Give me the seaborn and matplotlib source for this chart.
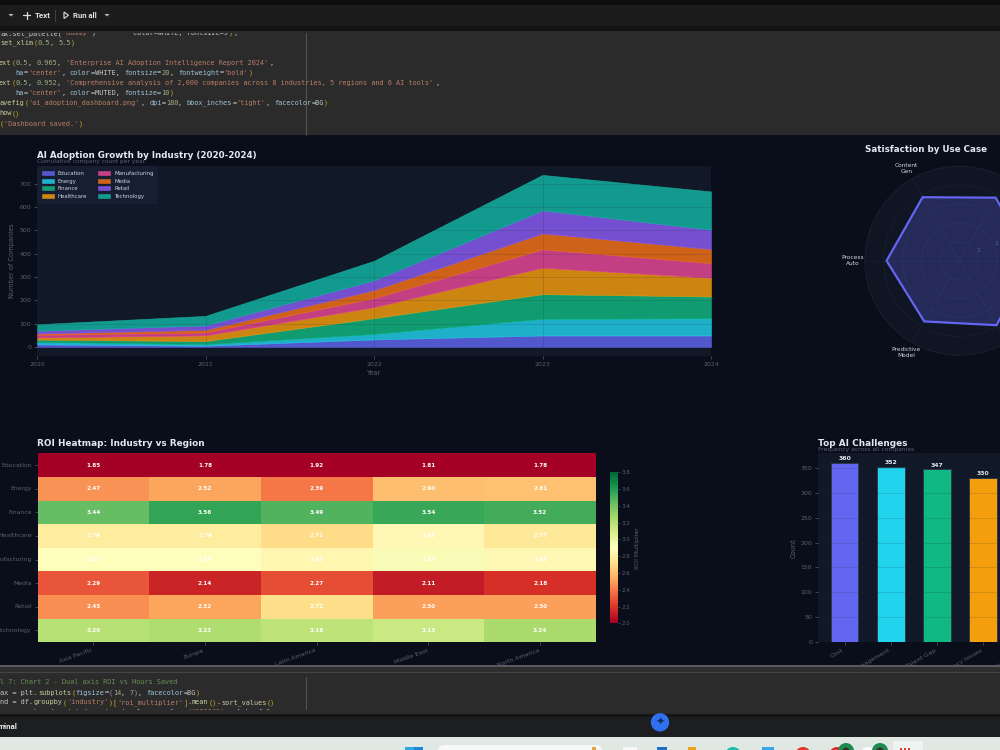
import numpy as np
import pandas as pd
import matplotlib
matplotlib.use("Agg")
import matplotlib.pyplot as plt
from matplotlib.patches import Rectangle, Circle, Polygon, FancyBboxPatch
import seaborn as sns

# ---- adoption by industry, companies per year ----
years = [2020, 2021, 2022, 2023, 2024]
industries = ["Education", "Energy", "Finance", "Healthcare",
              "Manufacturing", "Media", "Retail", "Technology"]
education = [12, 6, 33, 50, 50]
energy = [10, 6, 23, 71, 73]
finance = [10, 14, 68, 106, 94]
healthcare = [9, 24, 47, 113, 80]
manufacturing = [12, 13, 39, 79, 63]
media = [5, 11, 34, 68, 60]
retail = [12, 19, 42, 99, 83]
technology = [28, 41, 84, 152, 164]
industry_colors = ["#6366f1", "#22d3ee", "#10b981", "#f59e0b",
                   "#ec4899", "#f97316", "#8b5cf6", "#14b8a6"]

# ---- satisfaction radar ----
use_cases = ["Customer\nService", "Code\nAssist", "Content\nGen",
             "Process\nAuto", "Predictive\nModel", "Data\nAnalysis"]
satisfaction = [3.8, 3.85, 3.88, 3.85, 3.71, 3.94]

# ---- ROI heatmap ----
regions = ["Asia Pacific", "Europe", "Latin America", "Middle East", "North America"]
roi_education = [1.85, 1.78, 1.92, 1.81, 1.78]
roi_energy = [2.47, 2.52, 2.39, 2.60, 2.61]
roi_finance = [3.44, 3.56, 3.49, 3.54, 3.52]
roi_healthcare = [2.79, 2.79, 2.71, 2.86, 2.77]
roi_manufacturing = [2.91, 2.89, 2.85, 2.93, 2.86]
roi_media = [2.29, 2.14, 2.27, 2.11, 2.18]
roi_retail = [2.45, 2.52, 2.72, 2.50, 2.50]
roi_technology = [3.20, 3.23, 3.18, 3.13, 3.24]
roi_ticks = [2.0, 2.2, 2.4, 2.6, 2.8, 3.0, 3.2, 3.4, 3.6, 3.8]

# ---- challenges ----
challenges = ["Cost", "Change Management", "Talent Gap", "Data Privacy Issues",
              "Integration Complexity"]
challenge_counts = [360, 352, 347, 330, 318]
challenge_colors = ["#6366f1", "#22d3ee", "#10b981", "#f59e0b", "#ec4899"]

# ---- palette ----
BG = "#0a0e1a"
PANEL = "#111827"
GRID = "#1e293b"
MUTED = "#566072"
TEXT = "#e2e8f0"

W, H = 1000, 750
sns.set_theme(style="dark", rc={"font.family": "DejaVu Sans", "axes.grid": False})
fig = plt.figure(figsize=(W / 100, H / 100), dpi=100, facecolor=BG)


def px_axes(left, top, right, bottom, **kw):
    """Axes placed by pixel edges, y counted from the top of the canvas."""
    return fig.add_axes([left / W, 1 - bottom / H, (right - left) / W, (bottom - top) / H], **kw)


def label(x, y, s, **kw):
    kw.setdefault("va", "center")
    fig.text(x / W, 1 - y / H, s, zorder=3, **kw)


def style_axis(ax, size=4.5):
    ax.set_facecolor(PANEL)
    for sp in ax.spines.values():
        sp.set_visible(False)
    ax.tick_params(colors=MUTED, labelsize=size, length=2, width=0.5, pad=2, bottom=True, left=True)
    ax.set_axisbelow(False)
    ax.grid(True, color=GRID, linewidth=0.5, alpha=0.22)


# ---- stacked area ----
ax1 = px_axes(37, 166, 711, 356)
style_axis(ax1)
ax1.stackplot(years, education, energy, finance, healthcare, manufacturing, media, retail, technology,
              labels=industries, colors=industry_colors, alpha=0.82, linewidth=0.4, edgecolor="face")
ax1.set_xlim(2020, 2024)
ax1.set_ylim(-38, 776)
ax1.set_xticks(years)
ax1.set_yticks(range(0, 800, 100))
ax1.set_ylabel("Number of Companies", color=MUTED, fontsize=4.8, labelpad=3.5)
ax1.set_xlabel("Year", color=MUTED, fontsize=4.8, labelpad=2.5)
leg = ax1.legend(loc="upper left", ncol=2, fontsize=3.9, frameon=True, facecolor="#1a2035",
                 edgecolor="none", framealpha=0.8, borderaxespad=0, borderpad=0.9,
                 labelspacing=0.5, columnspacing=2.1, handlelength=2.2, handletextpad=0.7)
for t in leg.get_texts():
    t.set_color("#cbd5e1")
label(37, 155, "AI Adoption Growth by Industry (2020-2024)", color=TEXT, fontsize=6.35, fontweight="bold")
label(37, 162, "Cumulative company count per year", color=MUTED, fontsize=4.2)

# ---- radar ----
cx, cy, rad = 959.3, 260.7, 94.5
ax2 = px_axes(cx - rad, cy - rad, cx + rad, cy + rad, projection="polar")
ax2.set_facecolor("#0f1522")
angles = np.deg2rad(np.arange(0, 360, 60))
ring_a = np.append(angles, angles[0])
ring_v = satisfaction + satisfaction[:1]
ax2.fill(ring_a, ring_v, color="#6366f1", alpha=0.27, zorder=2, edgecolor="none")
ax2.plot(ring_a, ring_v, color="#6366f1", linewidth=1.6, zorder=3)
ax2.set_ylim(0, 5)
ax2.set_rticks([1, 2, 3, 4, 5])
ax2.set_rlabel_position(22.5)
ax2.set_xticks(angles)
ax2.set_xticklabels(use_cases, fontsize=4.2, color="#cbd5e1")
ax2.tick_params(axis="x", pad=-4.5)
ax2.tick_params(axis="y", labelsize=4.4, colors=MUTED)
ax2.grid(True, color="#1a2333", linewidth=0.6, alpha=0.7)
ax2.spines["polar"].set_color("#1a2333")
ax2.spines["polar"].set_linewidth(0.5)
label(926, 149.5, "Satisfaction by Use Case", color=TEXT, fontsize=6.35, fontweight="bold", ha="center")

# ---- ROI heatmap ----
roi = pd.DataFrame([roi_education, roi_energy, roi_finance, roi_healthcare,
                    roi_manufacturing, roi_media, roi_retail, roi_technology],
                   index=industries, columns=regions)
ax3 = px_axes(37.5, 453.3, 596, 642.3)
cax = px_axes(610, 472.3, 617.7, 623.3)
sns.heatmap(roi, ax=ax3, cbar_ax=cax, cmap="RdYlGn", vmin=2.0, vmax=3.8, annot=True, fmt=".2f",
            annot_kws={"fontsize": 4.1, "fontweight": "bold", "color": "white"},
            cbar_kws={"ticks": roi_ticks})
ax3.set_xlabel("")
ax3.set_ylabel("")
ax3.tick_params(colors=MUTED, labelsize=4.4, length=2, width=0.5, pad=2, bottom=True, left=True)
ax3.set_yticklabels(industries, rotation=0)
ax3.set_xticklabels(regions, rotation=20, ha="right")
cax.tick_params(colors=MUTED, labelsize=4, length=1.5, width=0.4, pad=1.5, right=True)
cax.set_ylabel("ROI Multiplier", color=MUTED, fontsize=4.4, labelpad=3)
label(37, 443, "ROI Heatmap: Industry vs Region", color=TEXT, fontsize=6.4, fontweight="bold")

# ---- challenges bars (the axes run past the right edge of the canvas) ----
ax4 = px_axes(817.7, 453, 1048, 642.3)
style_axis(ax4)
sns.barplot(x=challenges, y=challenge_counts, hue=challenges, palette=challenge_colors, legend=False,
            ax=ax4, width=0.6, saturation=1, edgecolor="#2a3a50", linewidth=0.7)
ax4.set_xlim(-0.58, 4.4)
ax4.set_ylim(0, 379.4)
ax4.set_yticks(range(0, 400, 50))
for sp_container in ax4.containers:
    ax4.bar_label(sp_container, fmt="%d", color=TEXT, fontsize=4.4, fontweight="bold", padding=1)
plt.setp(ax4.get_xticklabels(), rotation=30, ha="right", rotation_mode="default")
ax4.set_ylabel("Count", color=MUTED, fontsize=4.8, labelpad=3)
label(818, 443, "Top AI Challenges", color=TEXT, fontsize=6.4, fontweight="bold")
label(818, 449.7, "Frequency across all companies", color=MUTED, fontsize=4.3)

# ---- notebook window around the dashboard ----
chrome = fig.add_axes([0, 0, 1, 1], zorder=20)
chrome.set_xlim(0, W)
chrome.set_ylim(H, 0)
chrome.axis("off")
chrome.patch.set_alpha(0)


def band(y0, y1, color, zorder=1):
    chrome.add_patch(Rectangle((0, y0), W, y1 - y0, facecolor=color, edgecolor="none", zorder=zorder))


def shape(patch):
    patch.set_edgecolor("none")
    chrome.add_patch(patch)


band(0, 5, "#0e0e0e")
band(5, 26, "#1c1c1c")
band(26, 31, "#131313", zorder=5)
band(31, 135, "#2b2b2b")
band(665, 666.5, "#5a5a5a")
band(666.5, 672, "#2e2e2e")
band(672, 672.7, "#444444")
band(672.7, 714, "#2b2b2b")
band(714, 717, "#141414", zorder=5)
band(717, 737, "#1d1e20", zorder=5)
band(737, 750, "#dfe8e3", zorder=5)
chrome.plot([306.3, 306.3], [33, 135], color="#555555", lw=0.7)
chrome.plot([306.3, 306.3], [677, 711], color="#555555", lw=0.7)

# toolbar
shape(Polygon([(8.5, 14), (13.5, 14), (11, 16.5)], facecolor="#bbbbbb"))
chrome.plot([26.5, 26.5], [11.5, 18.5], color="#e0e0e0", lw=0.9)
chrome.plot([23, 30], [15, 15], color="#e0e0e0", lw=0.9)
chrome.text(34.5, 15, "Text", color="#e0e0e0", fontsize=5.8, fontweight="bold", family="Roboto", va="center")
chrome.plot([55, 55], [10, 21], color="#444444", lw=0.7)
chrome.add_patch(Polygon([(64, 12), (64, 18.5), (68.5, 15.2)], facecolor="none", edgecolor="#e0e0e0", lw=0.8))
chrome.text(73, 15, "Run all", color="#e0e0e0", fontsize=5.6, fontweight="bold", family="Roboto", va="center")
shape(Polygon([(104.5, 14), (109.5, 14), (107, 16.5)], facecolor="#bbbbbb"))

# source listing shown in the cells
FG, STR, NUM, KW, PAR, PUR, CMT, FN = ("#d4d4d4", "#c5836a", "#a5bd8f", "#a9cfe8", "#d8b01e",
                                       "#c586c0", "#6a9955", "#d8d8a8")
CHAR_W = 4.16
code_lines = [
    (33.2, 0.3, [("ax.set_palette(", FG), ("'dummy'", STR), (")         ", FG), ("color=WHITE, fontsize=9", FG), (")", PAR), (";", FG)]),
    (42.7, 0.3, [("set_xlim", FN), ("(", PAR), ("0.5", NUM), (", ", FG), ("5.5", NUM), (")", PAR)]),
    (63, -0.9, [("ext", FN), ("(", PAR), ("0.5", NUM), (", ", FG), ("0.965", NUM), (", ", FG),
                ("'Enterprise AI Adoption Intelligence Report 2024'", STR), (",", FG)]),
    (72.7, -0.9, [("    ", FG), ("ha", KW), ("=", FG), ("'center'", STR), (", ", FG), ("color", KW), ("=WHITE, ", FG),
                  ("fontsize", KW), ("=", FG), ("20", NUM), (", ", FG), ("fontweight", KW), ("=", FG), ("'bold'", STR), (")", PAR)]),
    (82.7, -0.9, [("ext", FN), ("(", PAR), ("0.5", NUM), (", ", FG), ("0.952", NUM), (", ", FG),
                  ("'Comprehensive analysis of 2,000 companies across 8 industries, 5 regions and 6 AI tools'", STR), (",", FG)]),
    (93, -0.9, [("    ", FG), ("ha", KW), ("=", FG), ("'center'", STR), (", ", FG), ("color", KW), ("=MUTED, ", FG),
                ("fontsize", KW), ("=", FG), ("10", NUM), (")", PAR)]),
    (103, -0.5, [("avefig", FN), ("(", PAR), ("'ai_adoption_dashboard.png'", STR), (", ", FG), ("dpi", KW), ("=", FG),
                 ("180", NUM), (", ", FG), ("bbox_inches", KW), ("=", FG), ("'tight'", STR), (", ", FG),
                 ("facecolor", KW), ("=BG", FG), (")", PAR)]),
    (113.3, -0.5, [("how", FN), ("()", PAR)]),
    (123.7, -0.5, [("(", PAR), ("'Dashboard saved.'", STR), (")", PAR)]),
    (682.3, 0.5, [("l 7: Chart 2 - Dual axis ROI vs Hours Saved", CMT)]),
    (692.7, 0.5, [("ax = plt.", FG), ("subplots", FN), ("(", PAR), ("figsize", KW), ("=", FG), ("(", PUR), ("14", NUM),
                  (", ", FG), ("7", NUM), (")", PUR), (", ", FG), ("facecolor", KW), ("=BG", FG), (")", PAR)]),
    (702.3, 0.5, [("nd = df.", FG), ("groupby", FN), ("(", PAR), ("'industry'", STR), (")", PAR), ("[", PAR),
                  ("'roi_multiplier'", STR), ("]", PAR), (".", FG), ("mean", FN), ("()", PAR), (".", FG),
                  ("sort_values", FN), ("()", PAR)]),
    (712.3, 0.5, [("rs = ax.", FG), ("bar", FN), ("(", PAR), ("trend.index", FG), (", ", FG), ("trend.values", FG), (", ", FG),
                  ("color", KW), ("=", FG), ("'#6366f1'", STR), (", ", FG), ("alpha", KW), ("=", FG), ("0.9", NUM), (")", PAR)]),
]
for y, x0, tokens in code_lines:
    col = 0
    for text, color in tokens:
        chrome.text(x0 + col * CHAR_W, y, text, color=color, fontsize=4.97, family="DejaVu Sans Mono",
                    va="center", ha="left", alpha=0.92, zorder=3)
        col += len(text)

# masks that cut the listing off at the cell edges
band(31, 32.6, "#2b2b2b", zorder=4)
band(709.8, 714, "#2b2b2b", zorder=4)
chrome.text(-2, 726.7, "minal", color="#e8e8e8", fontsize=5.8, fontweight="bold", family="Roboto",
            va="center", zorder=6)

# assistant button
shape(Circle((660, 722.3), 9.2, facecolor="#2f6ff0", zorder=6))
chrome.text(660, 722.3, "\u2726", color="#12305f", fontsize=8, ha="center", va="center",
            family="DejaVu Sans", zorder=7)

# task bar
shape(Rectangle((405, 747), 8.6, 3, facecolor="#30a6e6", zorder=6))
shape(Rectangle((414.4, 747), 8.6, 3, facecolor="#1f86d6", zorder=6))
shape(FancyBboxPatch((437, 745), 166, 25, boxstyle="round,pad=0,rounding_size=8",
                     facecolor="#f7f9f8", zorder=6))
shape(Rectangle((592, 747), 4, 3, facecolor="#e0a440", zorder=7))
shape(Rectangle((623, 747), 14, 3, facecolor="#f8f8f8", zorder=6))
shape(Rectangle((657, 747), 10, 3, facecolor="#1f6fc8", zorder=6))
shape(Rectangle((688, 747), 8, 3, facecolor="#e8a21c", zorder=6))
shape(Circle((733, 755), 8, facecolor="#1db8b0", zorder=6))
shape(Rectangle((762, 747), 12, 3, facecolor="#35a9ee", zorder=6))
shape(Circle((803, 755), 8, facecolor="#e0362c", zorder=6))
shape(Circle((837, 755), 8, facecolor="#d9302a", zorder=6))
shape(Circle((846, 751), 8, facecolor="#1d8a50", zorder=7))
shape(Circle((846, 751), 3.5, facecolor="#3b2a2a", zorder=8))
shape(Circle((868, 755), 8, facecolor="#fbfbfb", zorder=6))
shape(Circle((880, 751), 8, facecolor="#1d8a50", zorder=7))
shape(Circle((880, 751), 3.5, facecolor="#3b2a2a", zorder=8))
shape(Rectangle((893, 741), 30, 10, facecolor="#eef2f0", zorder=6))
for dot_x in (901, 905, 909):
    shape(Rectangle((dot_x - 1, 747.5), 2.2, 2.5, facecolor="#d8402a", zorder=7))

fig.savefig("out.png", dpi=100, facecolor=BG)
